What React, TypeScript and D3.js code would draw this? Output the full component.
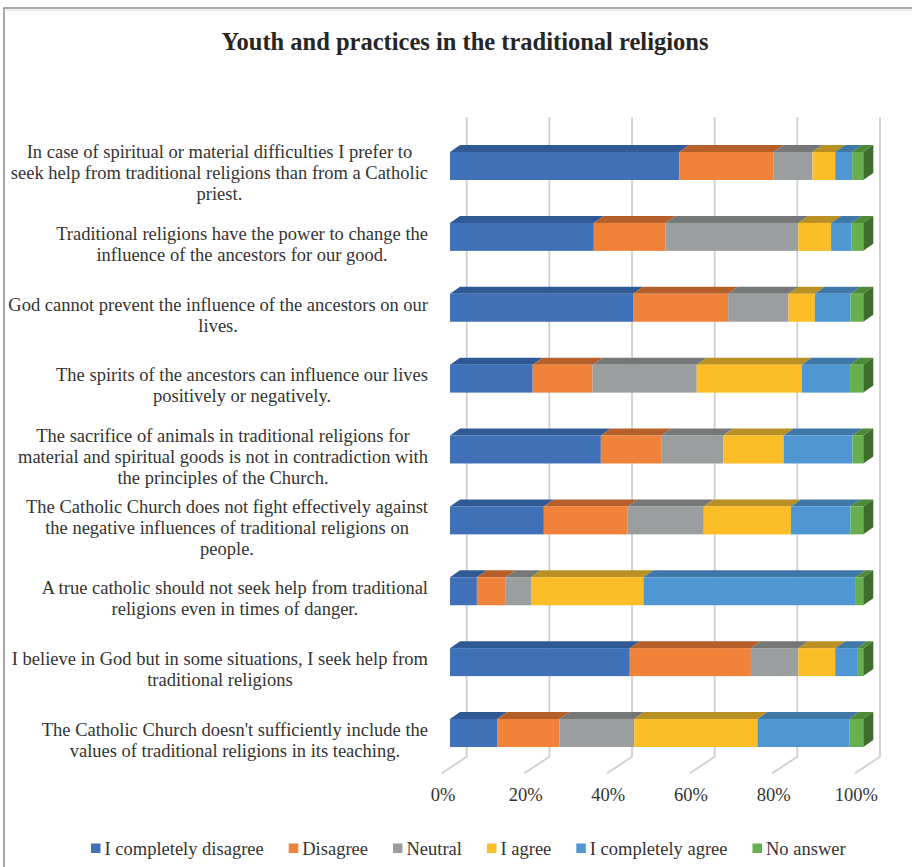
import React, { useEffect, useRef } from "react";
import * as d3 from "d3";

const title = "Youth and practices in the traditional religions";

const categories = [
  "In case of spiritual or material difficulties I prefer to\nseek help from traditional religions than from a Catholic\npriest.",
  "Traditional religions have the power to change the\ninfluence of the ancestors for our good.",
  "God cannot prevent the influence of the ancestors on our\nlives.",
  "The spirits of the ancestors can influence our lives\npositively or negatively.",
  "The sacrifice of animals in traditional religions for\nmaterial and spiritual goods is not in contradiction with\nthe principles of the Church.",
  "The Catholic Church does not fight effectively against\nthe negative influences of traditional religions on\npeople.",
  "A true catholic should not seek help from traditional\nreligions even in times of danger.",
  "I believe in God but in some situations, I seek help from\ntraditional religions",
  "The Catholic Church doesn't sufficiently include the\nvalues of traditional religions in its teaching.",
];

const seriesNames = [
  "I completely disagree",
  "Disagree",
  "Neutral",
  "I agree",
  "I completely agree",
  "No answer",
];

const completelyDisagree = [55.5, 34.8, 44.3, 20.0, 36.5, 22.7, 6.5, 43.5, 11.4];
const disagree = [22.8, 17.4, 23.0, 14.5, 14.6, 20.3, 7.0, 29.3, 15.1];
const neutral = [9.4, 32.1, 14.6, 25.2, 15.0, 18.4, 6.1, 11.5, 18.1];
const agree = [5.5, 7.9, 6.4, 25.4, 14.6, 21.1, 27.2, 8.9, 29.8];
const completelyAgree = [4.1, 4.9, 8.6, 11.7, 16.7, 14.4, 51.4, 5.3, 22.2];
const noAnswer = [2.7, 2.9, 3.1, 3.2, 2.6, 3.1, 1.8, 1.5, 3.4];

const tickValues = [0, 0.2, 0.4, 0.6, 0.8, 1.0];

const frontColors = ["#4070B8", "#F0823A", "#9B9E9E", "#FCBD26", "#4F97D3", "#68AF50"];
const topColors = ["#2F5A96", "#B5602B", "#767878", "#B99024", "#3F78A6", "#4C8A37"];
const sideColors = ["#284D80", "#9A5224", "#646666", "#9E7B1F", "#35668D", "#3E6E2C"];

const W = 912;
const H = 867;
const FONT = "'Liberation Serif', 'Times New Roman', serif";

export default function App() {
  const ref = useRef<SVGSVGElement>(null);

  useEffect(() => {
    const svg = d3.select(ref.current);
    svg.selectAll("*").remove();

    const rows = categories.map((c, i) => ({
      cat: c,
      [seriesNames[0]]: completelyDisagree[i],
      [seriesNames[1]]: disagree[i],
      [seriesNames[2]]: neutral[i],
      [seriesNames[3]]: agree[i],
      [seriesNames[4]]: completelyAgree[i],
      [seriesNames[5]]: noAnswer[i],
    }));

    const stacked = d3
      .stack<any>()
      .keys(seriesNames)
      .offset(d3.stackOffsetExpand)(rows);

    const x = d3.scaleLinear().domain([0, 1]).range([450, 863.3]);
    const y = d3
      .scaleBand<string>()
      .domain(categories)
      .range([130.56, 768.44])
      .paddingInner(0.605)
      .paddingOuter(0.3025);

    const dx = 10;
    const dy = 7;
    const wallDx = 16.7;
    const gridTop = 117;
    const gridBottom = 756.7;
    const floorDx = -25;
    const floorDy = 16.6;

    // border
    svg
      .append("rect")
      .attr("x", 4)
      .attr("y", 8)
      .attr("width", 1200)
      .attr("height", 1200)
      .attr("fill", "none")
      .attr("stroke", "#8a8a8a")
      .attr("stroke-width", 1.5);
    svg
      .append("line")
      .attr("x1", 4)
      .attr("x2", W)
      .attr("y1", 10.2)
      .attr("y2", 10.2)
      .attr("stroke", "#dcdcdc")
      .attr("stroke-width", 1);

    // title
    svg
      .append("text")
      .attr("x", 465)
      .attr("y", 50)
      .attr("text-anchor", "middle")
      .attr("font-family", FONT)
      .attr("font-weight", "bold")
      .attr("font-size", 24.5)
      .attr("fill", "#262626")
      .text(title);

    // gridlines (back wall + floor slant)
    const grid = svg.append("g");
    tickValues.forEach((t) => {
      const bx = x(t) + wallDx;
      grid
        .append("path")
        .attr(
          "d",
          `M${bx},${gridTop}L${bx},${gridBottom}L${bx + floorDx},${gridBottom + floorDy}`
        )
        .attr("fill", "none")
        .attr("stroke", "#cfcfcf")
        .attr("stroke-width", 1.8);
    });

    // bars
    const bars = svg.append("g");
    categories.forEach((c, i) => {
      const y0 = y(c)!;
      const h = y.bandwidth();
      const g = bars.append("g");
      stacked.forEach((s, si) => {
        const a = x(s[i][0]);
        const b = x(s[i][1]);
        if (b - a <= 0) return;
        g.append("path")
          .attr("d", `M${a},${y0}L${b},${y0}L${b + dx},${y0 - dy}L${a + dx},${y0 - dy}Z`)
          .attr("fill", topColors[si]);
        g.append("rect")
          .attr("x", a)
          .attr("y", y0)
          .attr("width", b - a)
          .attr("height", h)
          .attr("fill", frontColors[si]);
      });
      // right side of last segment
      const last = stacked.length - 1;
      const e = x(stacked[last][i][1]);
      g.append("path")
        .attr("d", `M${e},${y0}L${e + dx},${y0 - dy}L${e + dx},${y0 + h - dy}L${e},${y0 + h}Z`)
        .attr("fill", sideColors[last]);
    });

    // category labels
    const labels = svg.append("g");
    categories.forEach((c) => {
      const lines = c.split("\n");
      const center = y(c)! + y.bandwidth() / 2;
      const lg = labels.append("g");
      const n = lines.length;
      lines.forEach((ln, k) => {
        lg.append("text")
          .attr("x", 0)
          .attr("y", center + 13.3 + (k - (n - 1) / 2) * 21)
          .attr("text-anchor", "middle")
          .attr("font-family", FONT)
          .attr("font-size", 18.5)
          .attr("fill", "#333333")
          .text(ln);
      });
      let maxW = 0;
      lg.selectAll<SVGTextElement, unknown>("text").each(function () {
        maxW = Math.max(maxW, this.getComputedTextLength());
      });
      lg.attr("transform", `translate(${428 - maxW / 2},0)`);
    });

    // x tick labels
    const fmt = d3.format(".0%");
    svg
      .append("g")
      .selectAll("text")
      .data(tickValues)
      .join("text")
      .attr("x", (d) => x(d) - 7)
      .attr("y", 801)
      .attr("text-anchor", "middle")
      .attr("font-family", FONT)
      .attr("font-size", 18.5)
      .attr("fill", "#333333")
      .text((d) => fmt(d));

    // legend
    const leg = svg.append("g");
    let lx = 91;
    seriesNames.forEach((name, si) => {
      leg
        .append("rect")
        .attr("x", lx)
        .attr("y", 843.5)
        .attr("width", 9.5)
        .attr("height", 9.5)
        .attr("fill", frontColors[si]);
      const t = leg
        .append("text")
        .attr("x", lx + 13.5)
        .attr("y", 855)
        .attr("font-family", FONT)
        .attr("font-size", 18.5)
        .attr("fill", "#333333")
        .text(name);
      const w = (t.node() as SVGTextElement).getComputedTextLength();
      lx = lx + 13.5 + w + 25;
    });
  }, []);

  return (
    <svg
      ref={ref}
      width={W}
      height={H}
      style={{ position: "absolute", left: 0, top: 0, background: "#fff" }}
    />
  );
}
